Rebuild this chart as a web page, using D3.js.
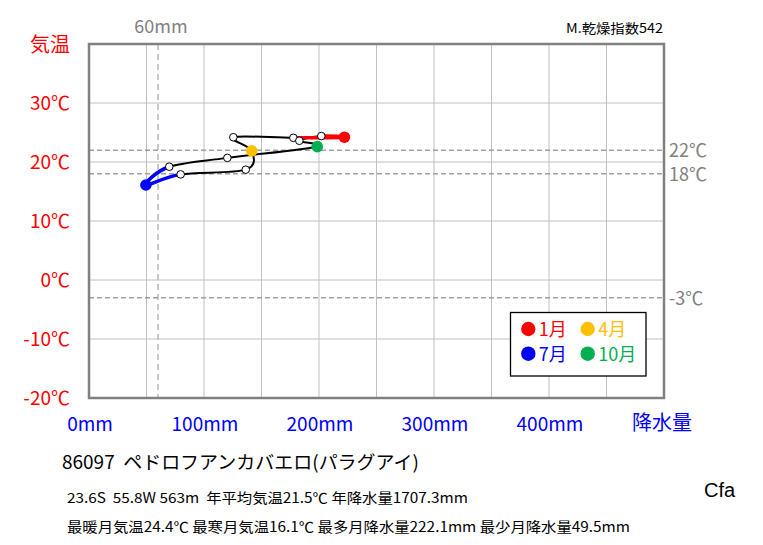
<!DOCTYPE html>
<html><head><meta charset="utf-8">
<script src="https://cdn.jsdelivr.net/npm/d3@7"></script>
<style>
html,body{margin:0;padding:0;background:#fff;}
svg{display:block;font-family:"Noto Sans CJK JP","Noto Sans",sans-serif;}
text{white-space:pre;}
</style></head>
<body><svg id="c" width="763" height="545"></svg>
<script>
const months = ["1月","2月","3月","4月","5月","6月","7月","8月","9月","10月","11月","12月"];
const precip = [222.1,177.7,125.5,141.5,136.3,79.7,49.5,69.8,120.3,198.5,182.9,202.0];
const temp   = [24.2,24.1,24.2,21.9,18.7,17.9,16.1,19.2,20.7,22.6,23.6,24.4];
const xTicks = [0,100,200,300,400];
const yTicks = [-20,-10,0,10,20,30];
const refTemps = [22,18,-3];
const refPrecip = 60;
const keyMonths = [0,3,6,9];
const keyColors = ["#ff0000","#ffc000","#0000ff","#00b050"];

const svg = d3.select("#c");
const x = d3.scaleLinear().domain([0,500]).range([89,664]);
const y = d3.scaleLinear().domain([-20,40]).range([398,44]);

// grid
const g = svg.append("g");
g.selectAll(".vg").data(d3.range(50,500,50)).join("line")
  .attr("x1",d=>x(d)).attr("x2",d=>x(d)).attr("y1",y(40)).attr("y2",y(-20))
  .attr("stroke","#c0c0c0").attr("stroke-width",1);
g.selectAll(".hg").data(d3.range(-10,40,10)).join("line")
  .attr("y1",d=>y(d)).attr("y2",d=>y(d)).attr("x1",x(0)).attr("x2",x(500))
  .attr("stroke","#c0c0c0").attr("stroke-width",1);

// reference dashed lines
g.append("line").attr("x1",x(refPrecip)).attr("x2",x(refPrecip)).attr("y1",y(40)).attr("y2",y(-20))
  .attr("stroke","#b8b8b8").attr("stroke-width",1.5).attr("stroke-dasharray","6,4");
g.selectAll(".rt").data(refTemps).join("line")
  .attr("x1",x(0)).attr("x2",x(500)).attr("y1",d=>y(d)).attr("y2",d=>y(d))
  .attr("stroke","#a0a0a0").attr("stroke-width",1.5).attr("stroke-dasharray","5,3");

// frame
svg.append("rect").attr("x",x(0)).attr("y",y(40)).attr("width",x(500)-x(0)).attr("height",y(-20)-y(40))
  .attr("fill","none").attr("stroke","#808080").attr("stroke-width",2.5);

// ref labels
svg.selectAll(".rl").data(refTemps).join("text")
  .attr("x",669).attr("y",d=>y(d)+7).attr("fill","#808080").attr("font-size",18)
  .text(d=>d+"℃");
svg.append("text").attr("x",x(refPrecip)+3).attr("y",33).attr("text-anchor","middle")
  .attr("fill","#808080").attr("font-size",18).text(refPrecip+"mm");

// axis labels
svg.selectAll(".yl").data(yTicks).join("text")
  .attr("x",70).attr("y",d=>y(d)+7).attr("text-anchor","end").attr("fill","#ff0000")
  .attr("font-size",19).text(d=>d+"℃");
svg.selectAll(".xl").data(xTicks).join("text")
  .attr("x",d=>x(d)+1).attr("y",431).attr("text-anchor","middle").attr("fill","#0000ff")
  .attr("font-size",19).text(d=>d+"mm");
svg.append("text").attr("x",30).attr("y",52).attr("fill","#ff0000").attr("font-size",20).text("気温");
svg.append("text").attr("x",632).attr("y",430).attr("fill","#0000ff").attr("font-size",20).text("降水量");

// climograph path (smoothed)
const pts = months.map((m,i)=>[x(precip[i]),y(temp[i])]);
svg.append("path").attr("d",d3.line().curve(d3.curveCardinalClosed.tension(0))(pts)).attr("fill","none")
  .attr("stroke","#000").attr("stroke-width",2).attr("stroke-linejoin","round");
// coloured segments: from month a to month b (through consecutive months)
const colSegs = [[11,1,"#ff0000"],[5,7,"#0000ff"]];
const segPts = (a,b)=>{
  const idx=[]; let i=(a+11)%12; idx.push(i);
  for(let k=a;;k=(k+1)%12){ idx.push(k); if(k===b) break; }
  idx.push((b+1)%12);
  return idx.map(j=>pts[j]);
};
svg.selectAll(".cs").data(colSegs).join("path")
  .attr("d",d=>d3.line().curve(d3.curveCardinalOpen.tension(0))(segPts(d[0],d[1])))
  .attr("fill","none").attr("stroke",d=>d[2]).attr("stroke-width",3.5).attr("stroke-linecap","round");
// white dots
svg.selectAll(".wd").data(d3.range(12).filter(i=>!keyMonths.includes(i))).join("circle")
  .attr("cx",i=>pts[i][0]).attr("cy",i=>pts[i][1]).attr("r",3.8)
  .attr("fill","#fff").attr("stroke","#000").attr("stroke-width",1);
svg.selectAll(".kd").data(keyMonths).join("circle")
  .attr("cx",i=>pts[i][0]).attr("cy",i=>pts[i][1]).attr("r",5.8)
  .attr("fill",(i,k)=>keyColors[k]);

// legend
svg.append("rect").attr("x",510.5).attr("y",312.5).attr("width",135.5).attr("height",63.5)
  .attr("fill","#fff").attr("stroke","#000").attr("stroke-width",1.3);
const lg = svg.selectAll(".lg").data(keyMonths).join("g")
  .attr("transform",(i,k)=>`translate(${528.3+(k%2)*59.4},${329+Math.floor(k/2)*24.7})`);
lg.append("circle").attr("r",7.2).attr("fill",(i,k)=>keyColors[k]);
lg.append("text").attr("x",10.5).attr("y",7).attr("font-size",18).attr("fill",(i,k)=>keyColors[k])
  .text(i=>months[i]);

// texts
svg.append("text").attr("x",566).attr("y",33).attr("font-size",13).attr("fill","#000")
  .attr("textLength",97).attr("lengthAdjust","spacingAndGlyphs").text("M.乾燥指数542");
svg.append("text").attr("x",62).attr("y",469).attr("font-size",18.5).attr("fill","#000")
  .attr("textLength",357).attr("lengthAdjust","spacingAndGlyphs").text("86097  ペドロフアンカバエロ(パラグアイ)");
svg.append("text").attr("x",67).attr("y",503).attr("font-size",14).attr("fill","#000")
  .attr("textLength",401).attr("lengthAdjust","spacingAndGlyphs").text("23.6S  55.8W 563m  年平均気温21.5℃ 年降水量1707.3mm");
svg.append("text").attr("x",67).attr("y",532).attr("font-size",14).attr("fill","#000")
  .attr("textLength",563).attr("lengthAdjust","spacingAndGlyphs").text("最暖月気温24.4℃ 最寒月気温16.1℃ 最多月降水量222.1mm 最少月降水量49.5mm");
svg.append("text").attr("x",704).attr("y",497).attr("font-size",20).attr("fill","#000")
  .attr("font-family","Liberation Sans, Arial, sans-serif").text("Cfa");
</script></body></html>
